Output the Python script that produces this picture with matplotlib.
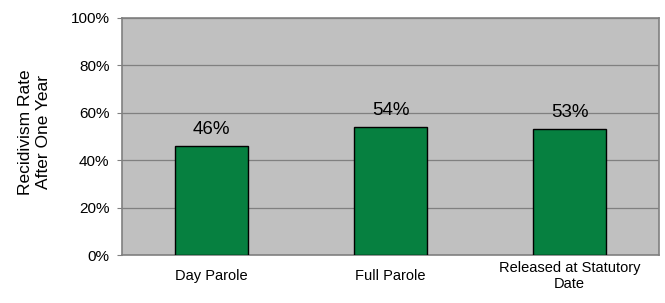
import matplotlib.pyplot as plt

plt.rcParams['font.family'] = ['Liberation Sans', 'DejaVu Sans']

categories = ["Day Parole", "Full Parole", "Released at Statutory\nDate"]
rates = [46, 54, 53]
yticks = [0, 20, 40, 60, 80, 100]
ytick_labels = ["0%", "20%", "40%", "60%", "80%", "100%"]

fig = plt.figure(figsize=(6.65, 3.03), dpi=100)
ax = fig.add_axes([0.1835, 0.158, 0.8075, 0.7826])
ax.set_facecolor("#C0C0C0")

x = range(len(categories))
bars = ax.bar(x, rates, width=0.41, color="#068040", edgecolor="black", linewidth=1, zorder=3)

for xi, v in zip(x, rates):
    ax.annotate(f"{v}%", (xi, v), xytext=(0, 6), textcoords="offset points",
                ha="center", va="bottom", fontsize=13.5)

ax.set_xlim(-0.5, 2.5)
ax.set_ylim(0, 100)
ax.set_yticks(yticks)
ax.set_yticklabels(ytick_labels, fontsize=11)
ax.set_xticks(list(x))
ax.set_xticklabels(categories, fontsize=10.5, va="center", linespacing=1.15)
ax.tick_params(axis="x", length=0, pad=15)
ax.tick_params(axis="y", length=3.6, color="#808080", pad=5.5)
ax.yaxis.grid(True, color="#808080", linewidth=0.9, zorder=1)
ax.set_axisbelow(True)

for side in ["left", "bottom", "right", "top"]:
    ax.spines[side].set_color("#808080")
    ax.spines[side].set_linewidth(1.2)

fig.text(0.052, 0.563, "Recidivism Rate\nAfter One Year", rotation=90,
         ha="center", va="center", fontsize=12.5, linespacing=1.3)

fig.savefig("out.png", dpi=100)
